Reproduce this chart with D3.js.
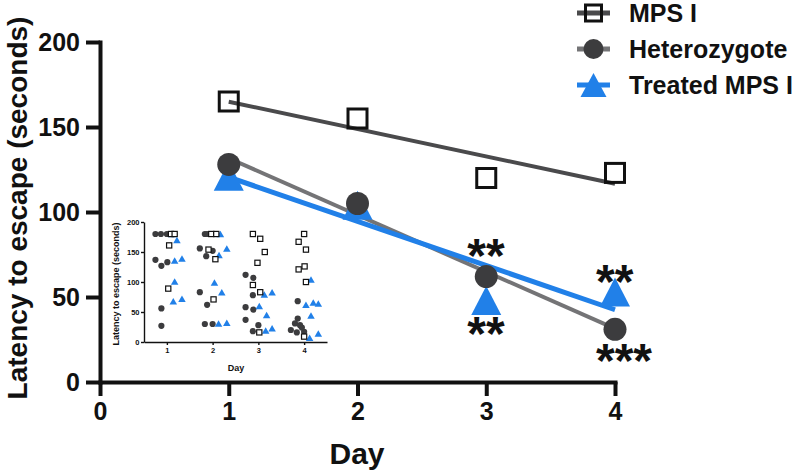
<!DOCTYPE html>
<html>
<head>
<meta charset="utf-8">
<script src="https://cdn.jsdelivr.net/npm/d3@7/dist/d3.min.js"></script>
<style>
  html, body { margin: 0; padding: 0; background: #fff; }
  svg { display: block; font-family: "Liberation Sans", Arial, Helvetica, sans-serif; font-weight: bold; }
</style>
</head>
<body>
<svg id="chart" width="792" height="470"></svg>
<script>
// ---------- data ----------
const days = [1, 2, 3, 4];
const seriesNames = ["MPS I", "Heterozygote", "Treated MPS I"];
const mpsMean = [165, 155, 120, 123];
const hetMean = [128, 105, 62, 31];
const treatedMean = [121, 104, 48, 53];
const yTicks = [0, 50, 100, 150, 200];
const xTicks = [0, 1, 2, 3, 4];

// significance marks
const sigDays = [3, 3, 4, 4];
const sigText = ["**", "**", "**", "***"];
const sigValue = [80, 34, 65, 18];

// inset: individual animals (jittered day, latency)
const insetMpsX = [1.09, 1.17, 1.05, 1.03, 1.97, 2.08, 1.91, 2.06, 2.02, 2.88, 3.04, 3.14, 2.98, 2.88, 3.04, 3.02, 4.0, 3.88, 4.04, 4.01, 3.88, 4.04, 4.0];
const insetMpsY = [180, 180, 161, 89, 180, 180, 154, 138, 71, 180, 172, 150, 132, 95, 83, 16, 180, 167, 154, 126, 121, 100, 9];
const insetHetX = [0.75, 0.87, 1.0, 0.75, 0.88, 1.01, 0.88, 0.88, 1.83, 1.88, 1.72, 1.86, 2.0, 1.72, 1.88, 1.83, 2.0, 2.72, 2.89, 2.88, 2.72, 2.89, 2.72, 3.0, 2.88, 3.86, 3.86, 3.8, 3.91, 3.71, 3.84, 4.0, 3.95];
const insetHetY = [180, 180, 180, 137, 127, 133, 56, 27, 180, 180, 156, 143, 152, 83, 62, 30, 30, 112, 107, 78, 58, 54, 37, 28, 18, 68, 39, 31, 28, 20, 16, 17, 24];
const insetTrtX = [1.11, 1.22, 1.17, 1.33, 1.17, 1.14, 1.33, 2.17, 2.31, 2.14, 2.04, 2.2, 2.13, 2.31, 3.13, 3.3, 3.02, 3.18, 3.16, 3.3, 4.15, 4.04, 4.2, 4.31, 4.15, 4.31, 4.12];
const insetTrtY = [180, 170, 136, 139, 101, 68, 72, 180, 156, 145, 99, 83, 31, 32, 79, 83, 60, 45, 19, 23, 104, 62, 66, 64, 44, 14, 7];
const insetXTicks = [1, 2, 3, 4];

// ---------- styles ----------
const C_MPS_LINE = "#4a4a4c";
const C_HET_LINE = "#747476";
const C_HET_FILL = "#3c3c3e";
const C_BLUE = "#2180e8";
const C_AX = "#111";
const fmt = d3.format("d");

const svg = d3.select("#chart");

// ---------- main scales ----------
const x = d3.scaleLinear().domain([0, 4]).range([100, 615]);
const y = d3.scaleLinear().domain([0, 200]).range([382, 42]);

function fit(xs, ys) {
  const mx = d3.mean(xs), my = d3.mean(ys);
  let num = 0, den = 0;
  xs.forEach((v, i) => { num += (v - mx) * (ys[i] - my); den += (v - mx) * (v - mx); });
  const b = num / den, a = my - b * mx;
  return t => a + b * t;
}

// ---------- main axes ----------
const yAxis = svg.append("g").attr("transform", "translate(100,0)")
  .call(d3.axisLeft(y).tickValues(yTicks).tickFormat(fmt).tickSize(14).tickPadding(6).tickSizeOuter(0));
const xAxis = svg.append("g").attr("transform", "translate(0,382)")
  .call(d3.axisBottom(x).tickValues(xTicks).tickFormat(fmt).tickSize(14).tickPadding(6).tickSizeOuter(0));
[yAxis, xAxis].forEach(g => {
  g.select(".domain").attr("stroke", C_AX).attr("stroke-width", 4).attr("stroke-linecap", "square");
  g.selectAll(".tick line").attr("stroke", C_AX).attr("stroke-width", 4);
  g.selectAll(".tick text").attr("fill", C_AX).style("font-size", "25px").style("font-weight", "bold")
    .style("font-family", '"Liberation Sans", Arial, sans-serif');
});

svg.append("text").attr("transform", "translate(27,208) rotate(-90)")
  .attr("text-anchor", "middle").style("font-size", "28px").attr("fill", C_AX)
  .text("Latency to escape (seconds)");
svg.append("text").attr("x", 357).attr("y", 464)
  .attr("text-anchor", "middle").style("font-size", "30px").attr("fill", C_AX)
  .text("Day");

// ---------- inset ----------
const ix = d3.scaleLinear().domain([0.5, 4.5]).range([144, 327]);
const iy = d3.scaleLinear().domain([0, 200]).range([342, 222]);
const iyAxis = svg.append("g").attr("transform", "translate(144,0)")
  .call(d3.axisLeft(iy).tickValues(yTicks).tickFormat(fmt).tickSize(3).tickPadding(1.5).tickSizeOuter(0));
const ixAxis = svg.append("g").attr("transform", "translate(0,342)")
  .call(d3.axisBottom(ix).tickValues(insetXTicks).tickFormat(fmt).tickSize(3).tickPadding(3).tickSizeOuter(0));
[iyAxis, ixAxis].forEach(g => {
  g.select(".domain").attr("stroke", C_AX).attr("stroke-width", 1.4);
  g.selectAll(".tick line").attr("stroke", C_AX).attr("stroke-width", 1.4);
  g.selectAll(".tick text").attr("fill", C_AX).style("font-size", "7.5px").style("font-weight", "bold")
    .style("font-family", '"Liberation Sans", Arial, sans-serif');
});
svg.append("text").attr("transform", "translate(119,284) rotate(-90)")
  .attr("text-anchor", "middle").style("font-size", "9px").attr("fill", C_AX)
  .text("Latency to escape (seconds)");
svg.append("text").attr("x", 236).attr("y", 371)
  .attr("text-anchor", "middle").style("font-size", "9px").attr("fill", C_AX)
  .text("Day");

function triPath(cx, cy, w, h) {
  return `M${cx},${cy - h / 2}L${cx + w / 2},${cy + h / 2}L${cx - w / 2},${cy + h / 2}Z`;
}

const ig = svg.append("g");
ig.selectAll("circle.ih").data(insetHetX).join("circle")
  .attr("cx", d => ix(d)).attr("cy", (d, i) => iy(insetHetY[i])).attr("r", 3.1)
  .attr("fill", C_HET_FILL);
ig.selectAll("path.it").data(insetTrtX).join("path")
  .attr("d", (d, i) => triPath(ix(d), iy(insetTrtY[i]), 7.5, 6.5))
  .attr("fill", C_BLUE);
ig.selectAll("rect.im").data(insetMpsX).join("rect")
  .attr("x", d => ix(d) - 2.6).attr("y", (d, i) => iy(insetMpsY[i]) - 2.6)
  .attr("width", 5.2).attr("height", 5.2)
  .attr("fill", "#fff").attr("stroke", C_AX).attr("stroke-width", 1.2);

// ---------- main fitted lines ----------
const fMps = fit(days, mpsMean), fHet = fit(days, hetMean), fTrt = fit(days, treatedMean);
const lineSpec = [
  { f: fMps, color: C_MPS_LINE, w: 4 },
  { f: fHet, color: C_HET_LINE, w: 4 },
  { f: fTrt, color: C_BLUE, w: 5 }
];
const d0 = d3.min(days), d1 = d3.max(days);
lineSpec.forEach(s => {
  svg.append("line")
    .attr("x1", x(d0)).attr("y1", y(s.f(d0)))
    .attr("x2", x(d1)).attr("y2", y(s.f(d1)))
    .attr("stroke", s.color).attr("stroke-width", s.w);
});

// ---------- main markers ----------
svg.selectAll("path.trt").data(treatedMean).join("path")
  .attr("d", (d, i) => triPath(x(days[i]), y(d), 30, 29))
  .attr("fill", C_BLUE);
svg.selectAll("circle.het").data(hetMean).join("circle")
  .attr("cx", (d, i) => x(days[i])).attr("cy", d => y(d)).attr("r", 11.5)
  .attr("fill", C_HET_FILL);
svg.selectAll("rect.mps").data(mpsMean).join("rect")
  .attr("x", (d, i) => x(days[i]) - 9.5).attr("y", d => y(d) - 9.5)
  .attr("width", 19).attr("height", 19)
  .attr("fill", "none").attr("stroke", C_AX).attr("stroke-width", 3);

// ---------- significance ----------
sigText.forEach((t, i) => {
  svg.append("text").attr("x", x(sigDays[i]) - 19).attr("y", y(sigValue[i]) + 26)
    .attr("text-anchor", "start").style("font-size", "48px").attr("fill", C_AX)
    .text(t);
});

// ---------- legend ----------
const legY = [13, 49, 85];
const leg = svg.append("g");
seriesNames.forEach((name, i) => {
  const cy = legY[i];
  const lineColor = [C_MPS_LINE, C_HET_LINE, C_BLUE][i];
  leg.append("line").attr("x1", 577).attr("x2", 610).attr("y1", cy).attr("y2", cy)
    .attr("stroke", lineColor).attr("stroke-width", 5);
  if (i === 0) {
    leg.append("rect").attr("x", 593.5 - 8).attr("y", cy - 8).attr("width", 16).attr("height", 16)
      .attr("fill", "none").attr("stroke", C_AX).attr("stroke-width", 3);
  } else if (i === 1) {
    leg.append("circle").attr("cx", 593.5).attr("cy", cy).attr("r", 10).attr("fill", C_HET_FILL);
  } else {
    leg.append("path").attr("d", triPath(593.5, cy, 26, 24)).attr("fill", C_BLUE);
  }
  leg.append("text").attr("x", 629).attr("y", cy + 8.5)
    .style("font-size", "25px").attr("fill", C_AX).text(name);
});
</script>
</body>
</html>
